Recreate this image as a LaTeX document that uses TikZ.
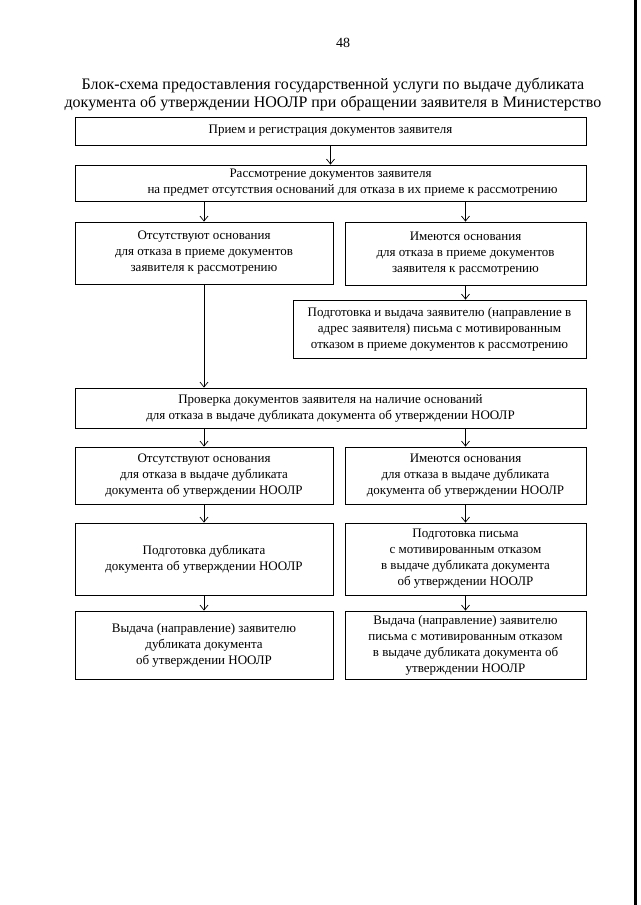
\documentclass[tikz,border=0pt]{standalone}
\usepackage{fontspec}
\setmainfont{Liberation Serif}
\usetikzlibrary{arrows.meta}
\tikzset{
  box/.style={draw=black, line width=0.8pt, align=center, inner sep=2pt,
    font=\fontsize{13}{16}\selectfont},
  arr/.style={draw=black, line width=0.7pt, -{Straight Barb[length=5pt,width=8pt,line width=0.7pt]}},
}
\begin{document}
\begin{tikzpicture}[x=1pt,y=-1pt]
\useasboundingbox (0,0) rectangle (640,905);
\fill[black] (634,0) rectangle (637,905);
\node[font=\fontsize{14}{16}\selectfont] (pg) at (343,43) {48};
\node[align=center, font=\fontsize{16}{18}\selectfont] (title) at (333,94)
  {Блок-схема предоставления государственной услуги по выдаче дубликата\\
   документа об утверждении НООЛР при обращении заявителя в Министерство};

\node[box, minimum width=511pt, minimum height=28pt] (b1) at (330.5,131)
  {Прием и регистрация документов заявителя};
\node[box, minimum width=511pt, minimum height=36pt] (b2) at (330.5,183)
  {Рассмотрение документов заявителя\\
   \hspace*{44pt}на предмет отсутствия оснований для отказа в их приеме к рассмотрению};
\node[box, minimum width=258pt, minimum height=62pt] (b3) at (204,253)
  {Отсутствуют основания\\ для отказа в приеме документов\\ заявителя к рассмотрению};
\node[box, minimum width=241pt, minimum height=63pt] (b4) at (465.5,253.5)
  {Имеются основания\\ для отказа в приеме документов\\ заявителя к рассмотрению};
\node[box, minimum width=293pt, minimum height=58pt] (b5) at (439.5,329)
  {Подготовка и выдача заявителю (направление в\\ адрес заявителя) письма с мотивированным\\ отказом в приеме документов к рассмотрению};
\node[box, minimum width=511pt, minimum height=40pt] (b6) at (330.5,408)
  {Проверка документов заявителя на наличие оснований\\ для отказа в выдаче дубликата документа об утверждении НООЛР};
\node[box, minimum width=258pt, minimum height=57pt] (b7) at (204,475.5)
  {Отсутствуют основания\\ для отказа в выдаче дубликата\\ документа об утверждении НООЛР};
\node[box, minimum width=241pt, minimum height=57pt] (b8) at (465.5,475.5)
  {Имеются основания\\ для отказа в выдаче дубликата\\ документа об утверждении НООЛР};
\node[box, minimum width=258pt, minimum height=72pt] (b9) at (204,559)
  {Подготовка дубликата\\ документа об утверждении НООЛР};
\node[box, minimum width=241pt, minimum height=72pt] (b10) at (465.5,559)
  {Подготовка письма\\ с мотивированным отказом\\ в выдаче дубликата документа\\ об утверждении НООЛР};
\node[box, minimum width=258pt, minimum height=68pt] (b11) at (204,645)
  {Выдача (направление) заявителю\\ дубликата документа\\ об утверждении НООЛР};
\node[box, minimum width=241pt, minimum height=68pt] (b12) at (465.5,645)
  {Выдача (направление) заявителю\\ письма с мотивированным отказом\\ в выдаче дубликата документа об\\ утверждении НООЛР};

\draw[arr] (b1.south) -- (b2.north);
\draw[arr] (b2.south -| b3.north) -- (b3.north);
\draw[arr] (b2.south -| b4.north) -- (b4.north);
\draw[arr] (b4.south) -- (b4.south |- b5.north);
\draw[arr] (b3.south) -- (b3.south |- b6.north);
\draw[arr] (b6.south -| b7.north) -- (b7.north);
\draw[arr] (b6.south -| b8.north) -- (b8.north);
\draw[arr] (b7.south) -- (b9.north);
\draw[arr] (b8.south) -- (b10.north);
\draw[arr] (b9.south) -- (b11.north);
\draw[arr] (b10.south) -- (b12.north);
\end{tikzpicture}
\end{document}
